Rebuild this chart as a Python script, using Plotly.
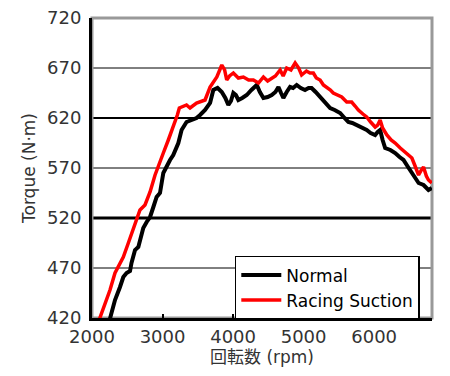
import plotly.graph_objects as go

# ---- data ----
rpm_normal = [2200, 2255, 2326, 2397, 2444, 2490, 2539, 2560, 2610, 2657, 2680, 2727, 2775,
              2823, 2870, 2916, 2964, 3011, 3106, 3152, 3224, 3270, 3340, 3411, 3482, 3532,
              3603, 3674, 3720, 3780, 3840, 3890, 3933, 3970, 4004, 4040, 4075, 4130, 4194,
              4260, 4336, 4380, 4430, 4490, 4548, 4600, 4643, 4680, 4713, 4760, 4808, 4850,
              4902, 4960, 5020, 5070, 5113, 5170, 5234, 5300, 5376, 5440, 5518, 5580, 5634,
              5690, 5752, 5820, 5894, 5950, 6014, 6050, 6085, 6120, 6156, 6230, 6298, 6360,
              6416, 6480, 6535, 6580, 6630, 6700, 6740, 6770, 6817]
torque_normal = [405, 420, 438, 451, 461, 465, 467, 475, 488, 491, 498, 510, 516,
                 521, 531, 541, 545, 565, 578, 583, 595, 608, 616, 618, 620, 623,
                 628, 635, 648, 650, 646, 640, 633, 637, 645, 643, 638, 640, 643,
                 648, 653, 646, 640, 641, 643, 646, 651, 645, 640, 646, 651, 650,
                 653, 650, 648, 650, 650, 646, 641, 636, 630, 628, 625, 620, 616,
                 615, 613, 611, 608, 605, 603, 606, 608, 598, 590, 588, 585, 581,
                 578, 571, 565, 560, 555, 553, 550, 548, 550]

rpm_racing = [2060, 2113, 2184, 2255, 2326, 2373, 2444, 2515, 2586, 2634, 2680, 2751, 2823,
              2894, 2940, 3011, 3082, 3152, 3210, 3238, 3340, 3390, 3482, 3603, 3674, 3770,
              3840, 3880, 3910, 3950, 4004, 4075, 4146, 4220, 4288, 4360, 4430, 4490, 4548,
              4600, 4667, 4710, 4760, 4820, 4880, 4930, 4972, 5040, 5090, 5138, 5180, 5234,
              5280, 5327, 5380, 5420, 5480, 5540, 5611, 5681, 5730, 5776, 5840, 5894, 5950,
              6014, 6050, 6085, 6120, 6180, 6240, 6298, 6370, 6440, 6490, 6535, 6580, 6630,
              6670, 6700, 6740, 6770, 6817]
torque_racing = [410, 420, 435, 448, 465, 471, 481, 495, 510, 520, 528, 533, 546,
                 563, 571, 585, 598, 611, 623, 630, 633, 630, 635, 638, 651, 661,
                 673, 668, 658, 662, 665, 660, 661, 658, 658, 655, 661, 657, 660,
                 662, 668, 662, 670, 668, 675, 670, 663, 667, 665, 665, 660, 658,
                 653, 651, 648, 645, 643, 641, 636, 636, 632, 628, 624, 621, 616,
                 611, 613, 618, 610, 603, 598, 595, 590, 586, 583, 580, 572, 563,
                 568, 571, 562, 558, 555]

y_ticks = [420, 470, 520, 570, 620, 670, 720]
x_ticks = [2000, 3000, 4000, 5000, 6000]
grid_values = [470, 520, 570, 620, 670]
grid_widths = [1, 3, 1, 2, 1]

series_names = ["Normal", "Racing Suction"]

fig = go.Figure()
fig.add_trace(go.Scatter(x=rpm_normal, y=torque_normal, mode="lines", name=series_names[0],
                         line=dict(color="#000000", width=4)))
fig.add_trace(go.Scatter(x=rpm_racing, y=torque_racing, mode="lines", name=series_names[1],
                         line=dict(color="#ff0000", width=3.5)))

shapes = []
for gv, gw in zip(grid_values, grid_widths):
    shapes.append(dict(type="line", xref="x domain", yref="y", x0=0, x1=1, y0=gv, y1=gv,
                       line=dict(color="#000000", width=gw), layer="below"))
shapes.append(dict(type="rect", xref="x domain", yref="y domain", x0=0, x1=1, y0=0, y1=1,
                   line=dict(color="#999999", width=3), layer="below"))

# the page body has an 8px margin, so the figure is shrunk and shifted to compensate
fig.update_layout(
    width=442, height=368,
    margin=dict(l=84, r=18, t=10, b=58),
    paper_bgcolor="white", plot_bgcolor="white",
    font=dict(family="DejaVu Sans", size=18, color="#333333"),
    shapes=shapes,
    showlegend=True,
    legend=dict(x=0.42, y=0.207, xanchor="left", yanchor="top",
                bgcolor="white", bordercolor="#000000", borderwidth=1.5,
                font=dict(size=17, color="#000000"), tracegroupgap=0,
                itemwidth=40, entrywidth=150),
    xaxis=dict(range=[2000, 6820], tickvals=x_ticks, ticktext=[str(v) for v in x_ticks],
               showgrid=False, zeroline=False, showline=True, linecolor="#000000",
               linewidth=3, ticks="inside", ticklen=4, tickwidth=2, tickcolor="#000000",
               automargin=False, ticklabeloverflow="allow",
               title=dict(text="回転数 (rpm)", standoff=6,
                          font=dict(family="DejaVu Sans, Noto Sans CJK JP", size=17, color="#333333"))),
    yaxis=dict(range=[420, 720], tickvals=y_ticks, ticktext=[str(v) for v in y_ticks],
               showgrid=False, zeroline=False, showline=True, linecolor="#000000",
               linewidth=3, ticks="", ticklabelstandoff=4, automargin=False,
               ticklabeloverflow="allow",
               title=dict(text="Torque (N·m)", standoff=8,
                          font=dict(size=17, color="#333333"))),
)

fig.write_html("out.html")
